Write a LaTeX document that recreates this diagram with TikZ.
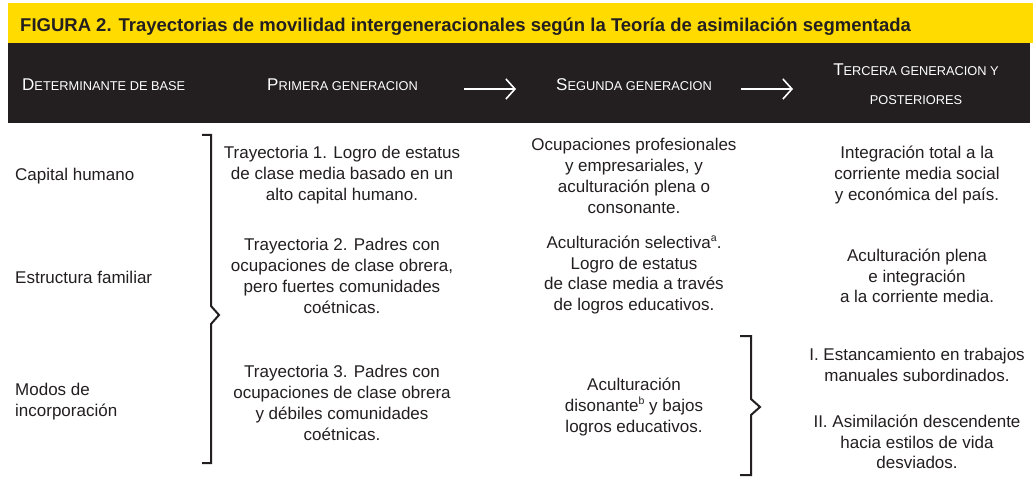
\documentclass[tikz,border=0pt]{standalone}
\usepackage{fontspec}
\setmainfont{Liberation Sans}
\usetikzlibrary{arrows.meta}
\definecolor{ink}{HTML}{231F20}
\definecolor{band}{HTML}{FFDB00}
\newcommand\hsc[2]{{\fontsize{17}{20}\selectfont #1}{\fontsize{12.8}{20}\selectfont #2}}
\newcommand\sups[1]{\raisebox{6.5pt}{\fontsize{10.5}{10}\selectfont #1}}
\begin{document}
\begin{tikzpicture}[x=1pt,y=-1pt,
  body/.style={font=\fontsize{17}{20.8}\selectfont, text=ink, align=center, inner sep=0pt},
  lbl/.style={body, align=left, anchor=west},
  hdr/.style={text=white, inner sep=0pt},
  brace/.style={draw=ink, line width=2pt},
  hdrarrow/.style={draw=white, line width=1.6pt, -{Straight Barb[length=9pt,width=20pt]}}]
\useasboundingbox (0,0) rectangle (1033,484);
\fill[white] (0,0) rectangle (1033,484);
\fill[band] (8,3) rectangle (1033,43);
\fill[ink] (8,43) rectangle (1030,123);
\node[font=\bfseries\fontsize{18.5}{20}\selectfont, text=ink, anchor=base west, inner sep=0pt] (title) at (20,31.5) {FIGURA 2. Trayectorias de movilidad intergeneracionales según la Teoría de asimilación segmentada};
% header
\node[hdr, anchor=base west] (h1) at (22,91) {\hsc{D}{ETERMINANTE DE BASE}};
\node[hdr, anchor=base west] (h2) at (267,91) {\hsc{P}{RIMERA GENERACION}};
\node[hdr, anchor=base west] (h3) at (556,91) {\hsc{S}{EGUNDA GENERACION}};
\node[hdr, anchor=base] (h4a) at (916,76) {\hsc{T}{ERCERA GENERACION Y}};
\node[hdr, anchor=base] (h4b) at (916,105) {\hsc{}{POSTERIORES}};
\coordinate (a1s) at (464,89);
\coordinate (a1e) at (516,89);
\coordinate (a2s) at (741,89);
\coordinate (a2e) at (793,89);
\draw[hdrarrow] (a1s) -- (a1e);
\draw[hdrarrow] (a2s) -- (a2e);
% column 1
\node[lbl] (d1) at (15,176) {Capital humano};
\node[lbl] (d2) at (15,277) {Estructura familiar};
\node[lbl] (d3) at (15,402) {Modos de\\incorporación};
% brace 1
\draw[brace] (202,135) -- (211,135) -- (211,306) -- (219,315) -- (211,324) -- (211,463) -- (202,463);
% column 2
\node[body] (t1) at (342,175) {Trayectoria 1. Logro de estatus\\de clase media basado en un\\alto capital humano.};
\node[body] (t2) at (342,276) {Trayectoria 2. Padres con\\ocupaciones de clase obrera,\\pero fuertes comunidades\\coétnicas.};
\node[body] (t3) at (342,403) {Trayectoria 3. Padres con\\ocupaciones de clase obrera\\y débiles comunidades\\coétnicas.};
% column 3
\node[body] (s1) at (634,176) {Ocupaciones profesionales\\y empresariales, y\\aculturación plena o\\consonante.};
\node[body] (s2) at (634,275) {Aculturación selectiva\sups{a}.\\Logro de estatus\\de clase media a través\\de logros educativos.};
\node[body] (s3) at (634,407) {Aculturación\\disonante\sups{b} y bajos\\logros educativos.};
% brace 2
\draw[brace] (740,336) -- (751,336) -- (751,399) -- (760,407) -- (751,415) -- (751,475) -- (740,475);
% column 4
\node[body] (g1) at (917,175) {Integración total a la\\corriente media social\\y económica del país.};
\node[body] (g2) at (917,276) {Aculturación plena\\e integración\\a la corriente media.};
\node[body] (g3) at (917,365) {I. Estancamiento en trabajos\\manuales subordinados.};
\node[body] (g4) at (917,442) {II. Asimilación descendente\\hacia estilos de vida\\desviados.};
\end{tikzpicture}
\end{document}
